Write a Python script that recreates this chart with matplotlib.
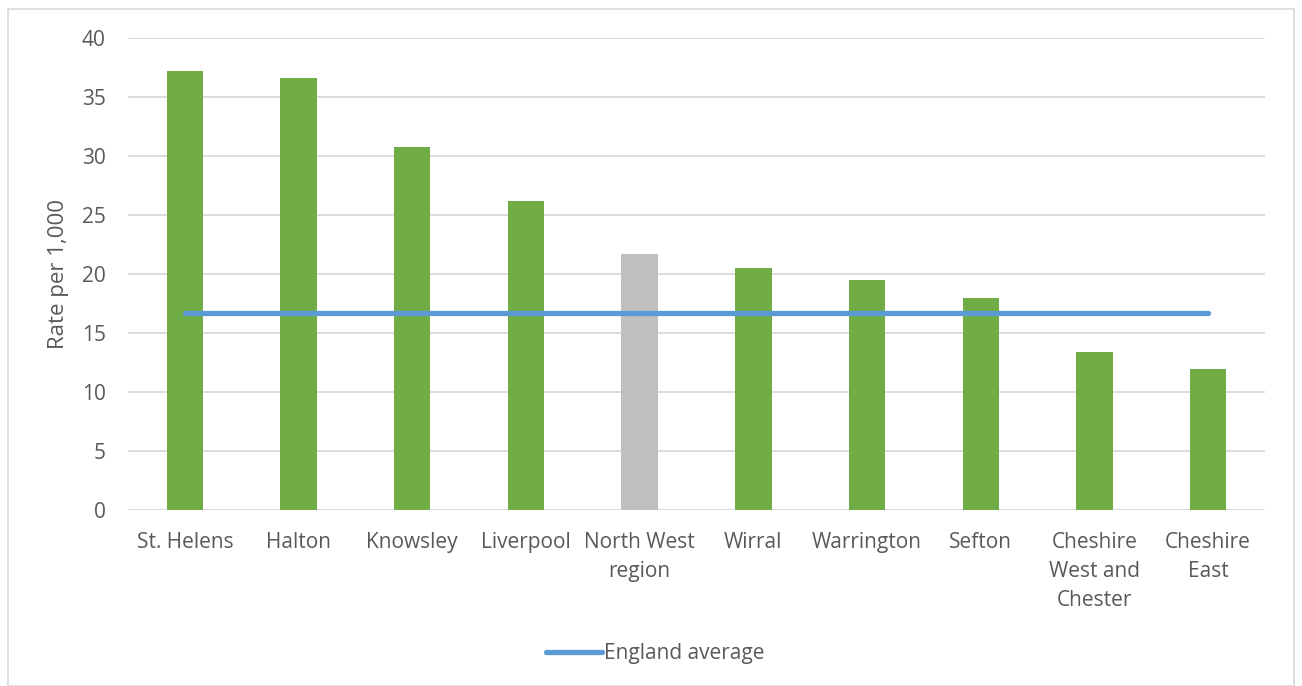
import matplotlib
matplotlib.use("Agg")
import matplotlib.pyplot as plt
from matplotlib.patches import Rectangle

categories = ["St. Helens", "Halton", "Knowsley", "Liverpool", "North West\nregion",
              "Wirral", "Warrington", "Sefton", "Cheshire\nWest and\nChester", "Cheshire\nEast"]
rates = [37.2, 36.6, 30.75, 26.2, 21.7, 20.55, 19.45, 17.95, 13.4, 11.95]
england_avg = [16.7] * len(categories)
bar_colors = ["#70AD47", "#70AD47", "#70AD47", "#70AD47", "#BFBFBF",
              "#70AD47", "#70AD47", "#70AD47", "#70AD47", "#70AD47"]
yticks = [0, 5, 10, 15, 20, 25, 30, 35, 40]

plt.rcParams['font.family'] = ['Open Sans', 'DejaVu Sans']
txt = "#595959"
fs = 15

fig = plt.figure(figsize=(13.02, 6.86), dpi=100)
ax = fig.add_axes([128/1302, 1 - 510/686, (1265-128)/1302, (510-38)/686])

x = list(range(len(categories)))
ax.bar(x, rates, width=0.32, color=bar_colors, zorder=3)
ax.plot(x, england_avg, color="#5B9BD5", linewidth=3.8, solid_capstyle="round",
        zorder=4, label="England average")

ax.set_xlim(-0.5, len(categories) - 0.5)
ax.set_ylim(0, 40)
ax.set_yticks(yticks)
ax.set_yticklabels([str(t) for t in yticks], fontsize=fs, color=txt)
ax.set_xticks(x)
ax.set_xticklabels(categories, fontsize=fs, color=txt, linespacing=1.5)
ax.tick_params(axis="both", length=0)
ax.tick_params(axis="y", pad=16)
ax.tick_params(axis="x", pad=16)
ax.grid(axis="y", color="#D9D9D9", linewidth=1.3, zorder=0)
for s in ax.spines.values():
    s.set_visible(False)
ax.set_ylabel("Rate per 1,000", fontsize=16, color=txt, labelpad=9)

leg = fig.legend(handles=[ax.lines[0]], labels=["England average"], loc="center",
                 bbox_to_anchor=(655/1302, 1 - 654/686), frameon=False, fontsize=fs,
                 handlelength=2.7, handletextpad=0.1)
for t in leg.get_texts():
    t.set_color(txt)

fig.patches.append(Rectangle((8/1302, 0), (1294-8)/1302, 1 - 9/686, transform=fig.transFigure,
                             fill=False, edgecolor="#D9D9D9", linewidth=1.2))

fig.savefig("out.png", dpi=100)
